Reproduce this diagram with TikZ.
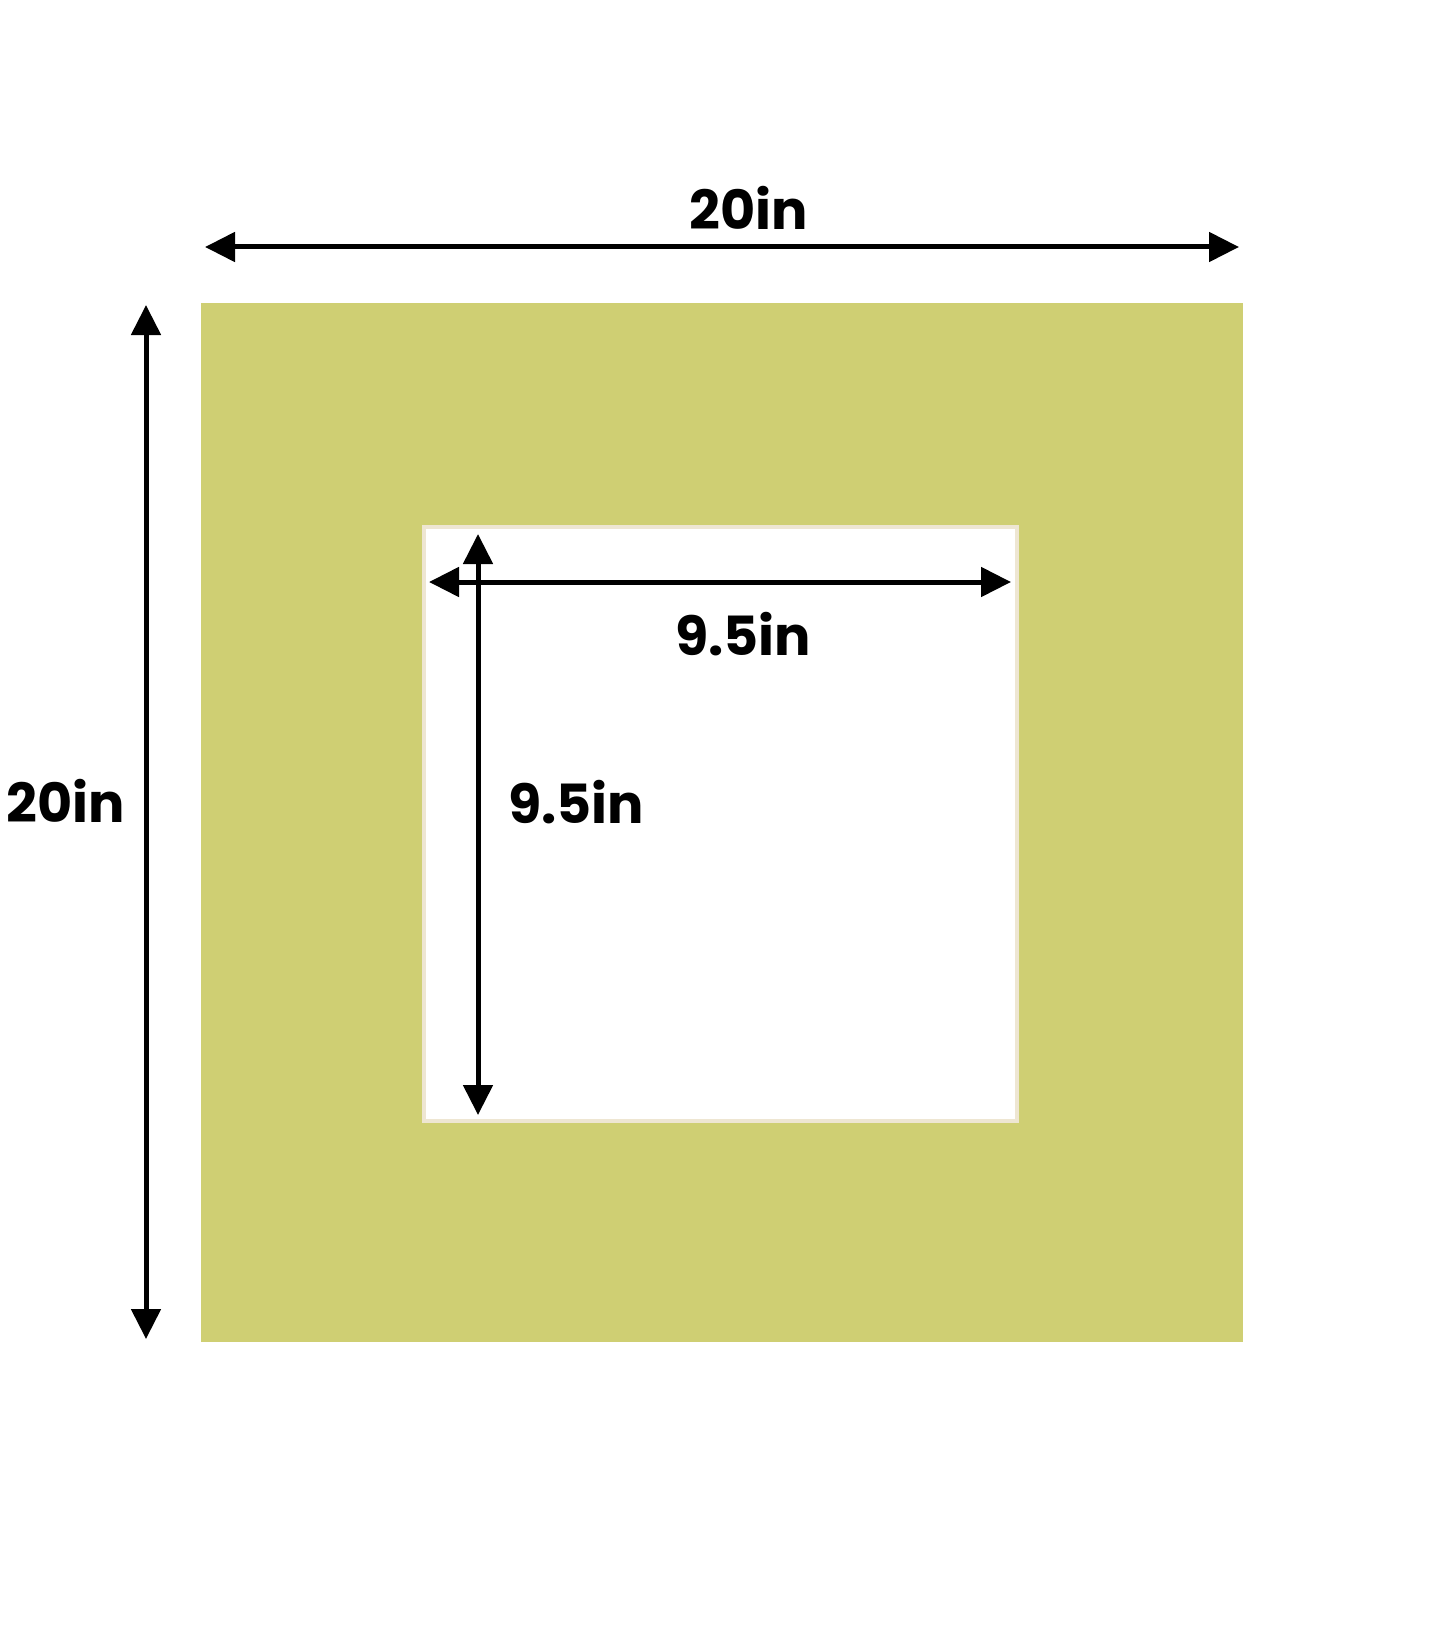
\documentclass[tikz,border=0pt]{standalone}
\usepackage{fontspec}
\setmainfont{Poppins}[BoldFont={Poppins Bold}]
\usetikzlibrary{arrows.meta}
\definecolor{matgreen}{RGB}{207,207,115}
\definecolor{bevel}{RGB}{238,230,210}
\tikzset{
  dimarrow/.style={line width=5pt, {Triangle[length=30pt,width=29pt]}-{Triangle[length=30pt,width=29pt]}},
  dimlabel/.style={font=\fontsize{54pt}{60pt}\selectfont\bfseries, anchor=base, inner sep=0pt, text=black}
}
\begin{document}
\begin{tikzpicture}[x=1pt,y=-1pt]
\useasboundingbox (0,0) rectangle (1445,1645);
\fill[white] (0,0) rectangle (1445,1645);
% mat board
\fill[matgreen] (201,303) rectangle (1243,1342);
% window with bevel
\fill[white] (422,525) rectangle (1019,1123);
\draw[bevel, line width=4pt] (424,527) rectangle (1017,1121);
% coordinates
\coordinate (tl) at (205,247);
\coordinate (tr) at (1239,247);
\coordinate (lt) at (146,305);
\coordinate (lb) at (146,1339);
\coordinate (il) at (429,582);
\coordinate (ir) at (1011,582);
\coordinate (it) at (478,534);
\coordinate (ib) at (478,1115);
% arrows
\draw[dimarrow] (tl) -- (tr);
\draw[dimarrow] (lt) -- (lb);
\draw[dimarrow] (il) -- (ir);
\draw[dimarrow] (it) -- (ib);
% labels
\node[dimlabel] (toplabel) at (749,230) {20in};
\node[dimlabel] (leftlabel) at (66,822) {20in};
\node[dimlabel] (innertop) at (743,655) {9.5in};
\node[dimlabel] (innerleft) at (576,823) {9.5in};
\end{tikzpicture}
\end{document}
